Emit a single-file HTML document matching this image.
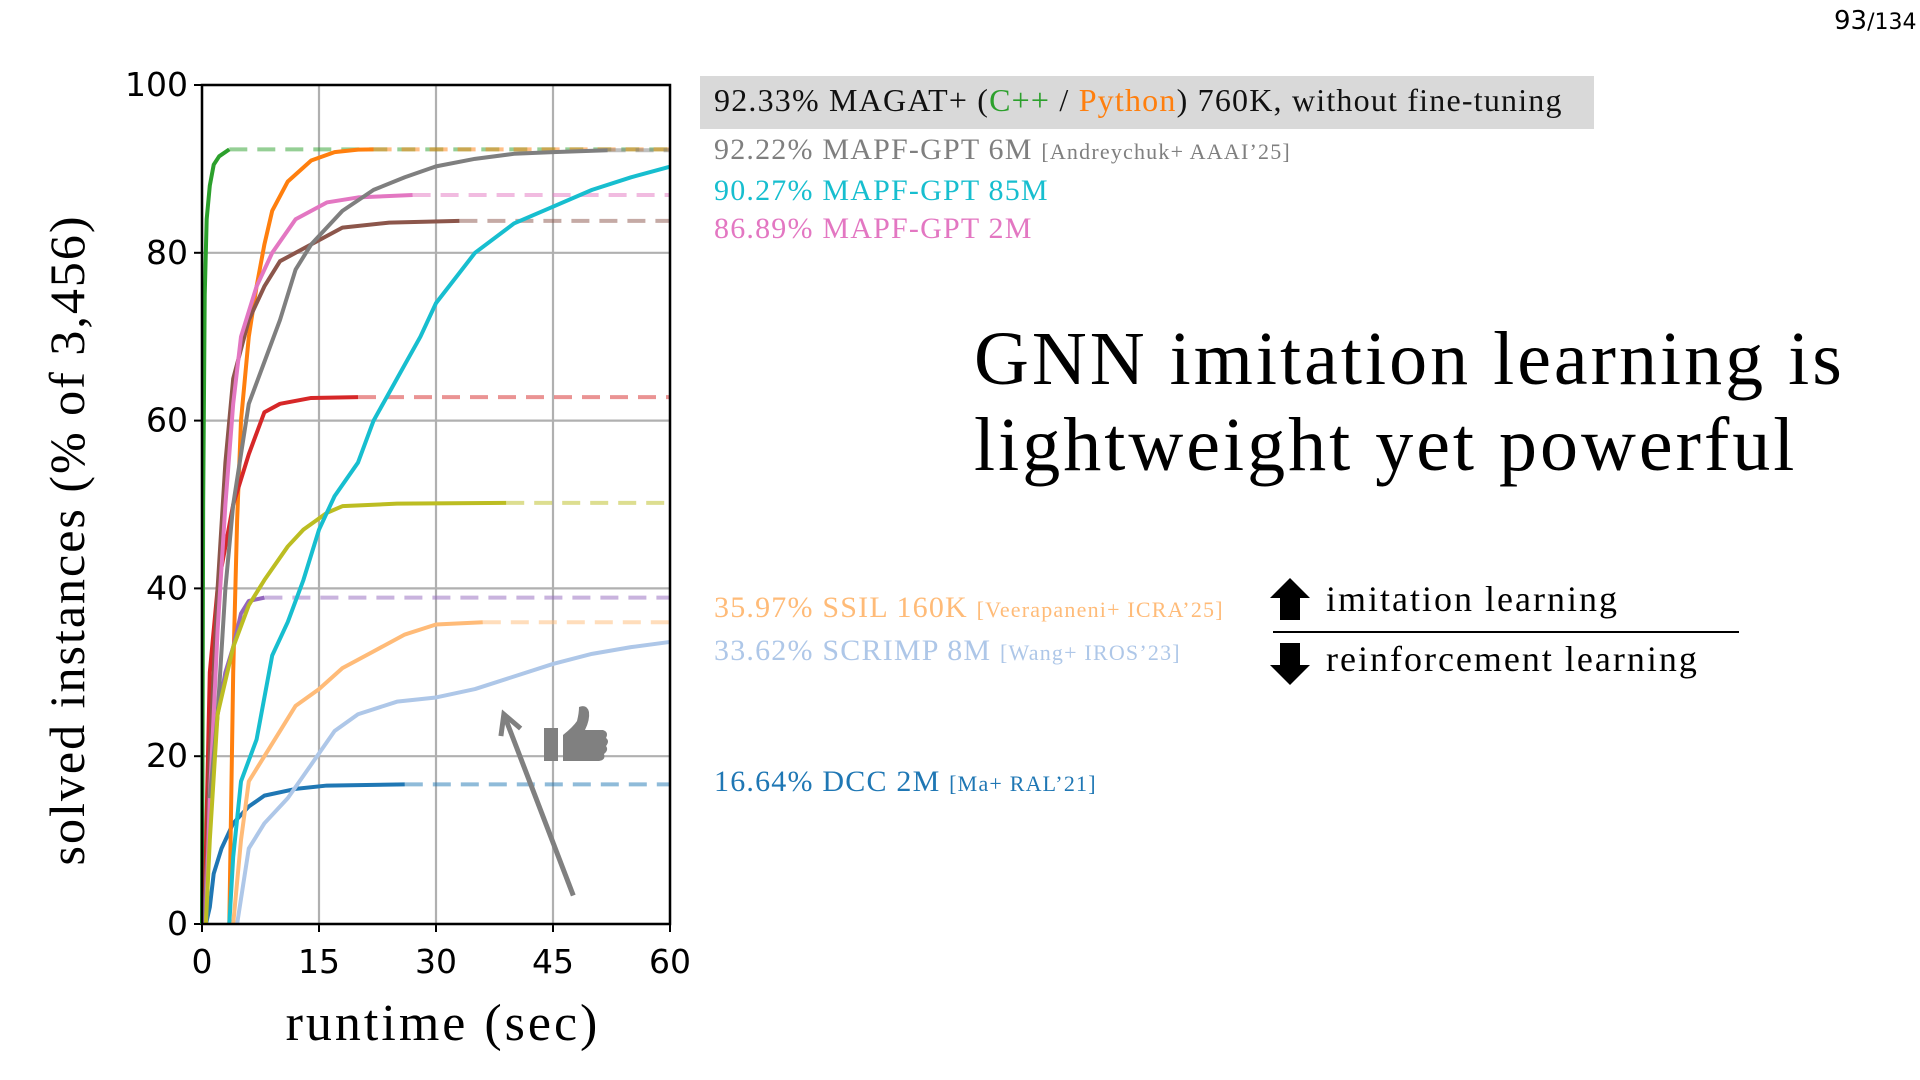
<!DOCTYPE html>
<html><head><meta charset="utf-8">
<style>
body{margin:0;width:1920px;height:1080px;background:#fff;position:relative;overflow:hidden;font-family:"Liberation Serif","DejaVu Serif",serif;}
.t{position:absolute;white-space:nowrap;}
.sm{font-size:22px;}
</style></head><body>
<div class="t" style="left:1834px;top:6px;font-family:'DejaVu Sans',sans-serif;font-size:26px;color:#000">93<span style="font-size:22px">/134</span></div>

<div style="position:absolute;left:700px;top:76px;width:894px;height:53px;background:#d9d9d9"></div>
<div class="t" style="left:714px;top:82px;font-size:32px;letter-spacing:1.2px;color:#111">92.33% MAGAT+ (<span style="color:#2ca02c">C++</span> / <span style="color:#ff7f0e">Python</span>) 760K, without fine-tuning</div>
<div class="t" style="left:714px;top:133px;font-size:30px;letter-spacing:1.2px;color:#7f7f7f">92.22% MAPF-GPT 6M <span class="sm">[Andreychuk+ AAAI’25]</span></div>
<div class="t" style="left:714px;top:174px;font-size:30px;letter-spacing:1.2px;color:#17becf">90.27% MAPF-GPT 85M</div>
<div class="t" style="left:714px;top:212px;font-size:30px;letter-spacing:1.2px;color:#e377c2">86.89% MAPF-GPT 2M</div>
<div class="t" style="left:714px;top:591px;font-size:30px;letter-spacing:1.2px;color:#ffbb78">35.97% SSIL 160K <span class="sm">[Veerapaneni+ ICRA’25]</span></div>
<div class="t" style="left:714px;top:634px;font-size:30px;letter-spacing:1.2px;color:#aec7e8">33.62% SCRIMP 8M <span class="sm">[Wang+ IROS’23]</span></div>
<div class="t" style="left:714px;top:765px;font-size:30px;letter-spacing:1.2px;color:#1f77b4">16.64% DCC 2M <span class="sm">[Ma+ RAL’21]</span></div>

<div class="t" style="left:974px;top:316px;font-size:76px;letter-spacing:3px;line-height:86px;color:#000">GNN imitation learning is<br>lightweight yet powerful</div>

<svg style="position:absolute;left:1260px;top:570px" width="500" height="120">
<polygon points="30,8 50,28 40,28 40,50 20,50 20,28 10,28" fill="#000"/>
<polygon points="30,115 50,95 40,95 40,73 20,73 20,95 10,95" fill="#000"/>
<line x1="13" y1="62" x2="479" y2="62" stroke="#000" stroke-width="2"/>
</svg>
<div class="t" style="left:1326px;top:578px;font-size:36px;letter-spacing:2px">imitation learning</div>
<div class="t" style="left:1326px;top:638px;font-size:36px;letter-spacing:2px">reinforcement learning</div>

<svg id="chart" style="position:absolute;left:0;top:0" width="720" height="1080"></svg>

<script>
const xTicks=[0,15,30,45,60];
const yTicks=[0,20,40,60,80,100];
const seriesNames=['dcc','green-cpp','orange-python','red','purple','brown','pink','gray-6m','olive','cyan-85m','ssil','scrimp'];
const seriesColors=['#1f77b4','#2ca02c','#ff7f0e','#d62728','#9467bd','#8c564b','#e377c2','#7f7f7f','#bcbd22','#17becf','#ffbb78','#aec7e8'];
const tDcc=[0.5,1,1.5,2.5,4,6,8,12,16,26]; const vDcc=[0,2,6,9,12,14,15.3,16.1,16.5,16.64];
const tGreen=[0,0.15,0.35,0.6,1,1.5,2.2,3.5]; const vGreen=[0,50,75,84,88,90.5,91.5,92.33];
const tOrange=[3.5,4,4.5,5,6,7,8,9,11,14,17,20,22]; const vOrange=[0,30,48,60,70,76,81,85,88.5,91,92,92.3,92.33];
const tRed=[0.3,1,2,4,6,8,10,14,20]; const vRed=[0,30,40,50,56,61,62,62.7,62.8];
const tPurple=[0.3,1,2,3,4,5,6,8]; const vPurple=[0,15,25,30,33,37,38.5,38.9];
const tBrown=[0.5,1,2,3,4,6,8,10,14,18,24,33]; const vBrown=[0,20,40,55,65,72,76,79,81,83,83.6,83.8];
const tPink=[0.5,1,2,3,4,5,7,9,12,16,20,27]; const vPink=[0,15,35,50,62,70,76,80,84,86,86.6,86.89];
const tGray=[1,2,3,4,6,8,10,12,14,18,22,26,30,35,40,45,52]; const vGray=[15,25,40,50,62,67,72,78,81,85,87.5,89,90.3,91.2,91.8,92,92.22];
const tOlive=[0.5,1,2,4,6,8,11,13,16,18,25,39]; const vOlive=[0,10,25,33,38,41,45,47,49,49.8,50.1,50.2];
const tCyan=[3.5,4,5,7,9,11,13,15,17,20,22,25,28,30,35,40,45,50,55,60]; const vCyan=[0,8,17,22,32,36,41,47,51,55,60,65,70,74,80,83.5,85.5,87.5,89,90.27];
const tSsil=[4,5,6,8,10,12,15,18,22,26,30,36]; const vSsil=[0,10,17,20,23,26,28,30.5,32.5,34.5,35.7,35.97];
const tScrimp=[4.5,5,6,8,11,14,17,20,25,30,35,40,45,50,55,60]; const vScrimp=[0,3,9,12,15,19,23,25,26.5,27,28,29.5,31,32.2,33,33.62];
const allT=[tDcc,tGreen,tOrange,tRed,tPurple,tBrown,tPink,tGray,tOlive,tCyan,tSsil,tScrimp];
const allV=[vDcc,vGreen,vOrange,vRed,vPurple,vBrown,vPink,vGray,vOlive,vCyan,vSsil,vScrimp];
const arrowFrom=[47.6,3.4]; const arrowTo=[38.7,25];

const X0=202,X1=670,Y0=924,Y1=85;
const sx=t=>X0+(t-0)/60*(X1-X0);
const sy=v=>Y0-(v-0)/100*(Y0-Y1);
const svg=document.getElementById('chart');
const NS='http://www.w3.org/2000/svg';
function mk(tag,attrs){const e=document.createElementNS(NS,tag);for(const k in attrs)e.setAttribute(k,attrs[k]);svg.appendChild(e);return e;}

xTicks.forEach(t=>{
  const g=mk('line',{x1:sx(t),x2:sx(t),y1:Y0,y2:Y1,stroke:'#b0b0b0','stroke-width':2.2});
  
  
  const tk=mk('line',{x1:sx(t),x2:sx(t),y1:Y0,y2:Y0+8,stroke:'#000','stroke-width':2});
  
  
  const l=mk('text',{x:sx(t),y:Y0+49,'text-anchor':'middle','font-family':'DejaVu Sans, sans-serif','font-size':33});
  l.textContent=t;
  
  
});
yTicks.forEach(v=>{
  const g=mk('line',{x1:X0,x2:X1,y1:sy(v),y2:sy(v),stroke:'#b0b0b0','stroke-width':2.2});
  
  
  const tk=mk('line',{x1:X0-8,x2:X0,y1:sy(v),y2:sy(v),stroke:'#000','stroke-width':2});
  
  
  const l=mk('text',{x:X0-14,y:sy(v)+11,'text-anchor':'end','font-family':'DejaVu Sans, sans-serif','font-size':33});
  l.textContent=v;
  
  
});

allT.forEach((ts,i)=>{
  const vs=allV[i]; const lt=ts[ts.length-1], lv=vs[vs.length-1];
  if(lt<60){
    const d=mk('line',{x1:sx(lt),x2:sx(60),y1:sy(lv),y2:sy(lv),stroke:seriesColors[i],'stroke-width':4,'stroke-dasharray':'18,10','stroke-opacity':0.5});
    
    
  }
});
allT.forEach((ts,i)=>{
  const vs=allV[i];
  const pts=ts.map((t,j)=>sx(t)+','+sy(vs[j])).join(' ');
  const p=mk('polyline',{points:pts,fill:'none',stroke:seriesColors[i],'stroke-width':4,'stroke-linejoin':'round'});
  
  
});

const ax1=sx(arrowFrom[0]),ay1=sy(arrowFrom[1]),ax2=sx(arrowTo[0]),ay2=sy(arrowTo[1]);
const ang=Math.atan2(ay2-ay1,ax2-ax1);
const ar=mk('line',{x1:ax1,y1:ay1,x2:ax2,y2:ay2,stroke:'#808080','stroke-width':5});


const hl=22;
const ah=mk('polyline',{points:[ax2-hl*Math.cos(ang-0.5),ay2-hl*Math.sin(ang-0.5)].join(',')+' '+ax2+','+ay2+' '+[ax2-hl*Math.cos(ang+0.5),ay2-hl*Math.sin(ang+0.5)].join(','),fill:'none',stroke:'#808080','stroke-width':5});


const th=mk('path',{d:'M544 728 h14 v33 h-14 z M563 735 q10 -8 14 -14 q2 -8 2 -14 q8 -3 10 5 q1 8 -4 18 h18 q6 2 3 8 q4 3 0 8 q3 4 -2 8 q2 6 -5 7 h-36 z',fill:'#808080'});



const fr=mk('rect',{x:X0,y:Y1,width:X1-X0,height:Y0-Y1,fill:'none',stroke:'#000','stroke-width':2.5});


const xt=mk('text',{x:443,y:1040,'text-anchor':'middle','font-family':'Liberation Serif, serif','font-size':52,'letter-spacing':3});
xt.textContent='runtime (sec)';


const yt=mk('text',{x:0,y:0,'text-anchor':'middle','font-family':'Liberation Serif, serif','font-size':50,'letter-spacing':2,transform:'translate(84,540) rotate(-90)'});
yt.textContent='solved instances (% of 3,456)';


</script>
</body></html>
